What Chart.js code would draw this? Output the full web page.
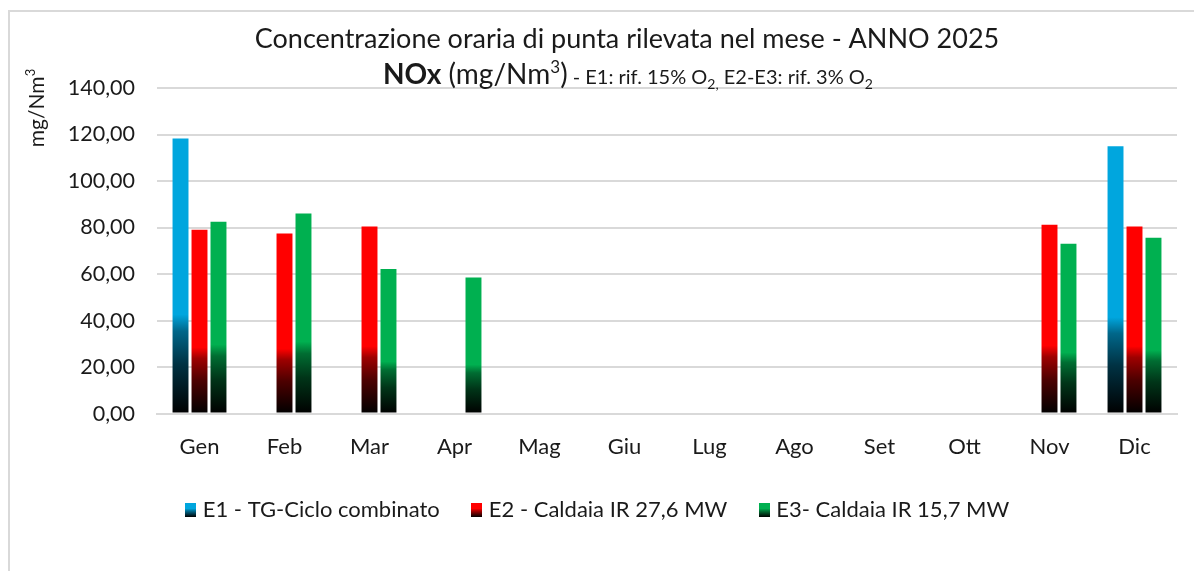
<!DOCTYPE html>
<html>
<head>
<meta charset="utf-8">
<script src="https://cdn.jsdelivr.net/npm/chart.js@4/dist/chart.umd.min.js"></script>
<style>
  html, body { margin: 0; padding: 0; background: #fff; overflow: hidden; }
  #frame { position: absolute; left: 8px; top: 10px; width: 1400px; height: 800px;
           border-left: 2px solid #d9d9d9; border-top: 2px solid #d9d9d9; }
  #wrap { position: absolute; left: 0; top: 0; width: 1194px; height: 571px; }
</style>
</head>
<body>
<div id="frame"></div>
<div id="wrap"><canvas id="myChart" width="1194" height="571"></canvas></div>
<script>
const months = ['Gen', 'Feb', 'Mar', 'Apr', 'Mag', 'Giu', 'Lug', 'Ago', 'Set', 'Ott', 'Nov', 'Dic'];
// mg/Nm3, null = nessun dato
const e1 = [118.3, null, null, null, null, null, null, null, null, null, null, 115.0];
const e2 = [79.1, 77.4, 80.4, null, null, null, null, null, null, null, 81.2, 80.4];
const e3 = [82.5, 86.0, 62.2, 58.5, null, null, null, null, null, null, 73.0, 75.6];
const yTicks = [0, 20, 40, 60, 80, 100, 120, 140];

const FONT = 'Lato, "Noto Sans", sans-serif';
const TXT = '#1a1a1a';
const blue = [0, 166, 222];
const red = [255, 0, 0];
const green = [0, 176, 80];

function rgb(c, k) {
  return 'rgb(' + Math.round(c[0] * k) + ',' + Math.round(c[1] * k) + ',' + Math.round(c[2] * k) + ')';
}

// gradiente nero in basso -> colore pieno a circa 1/3 dell'altezza
function barFill(col) {
  return function(context) {
    const chart = context.chart;
    const y = chart.scales.y;
    if (context.type !== 'data' || !chart.chartArea || !y || context.raw == null) return rgb(col, 1);
    const top = y.getPixelForValue(context.raw);
    const base = y.getPixelForValue(0);
    const g = chart.ctx.createLinearGradient(0, base, 0, top);
    g.addColorStop(0, 'rgb(0,0,0)');
    g.addColorStop(0.18, rgb(col, 0.3));
    g.addColorStop(0.3, rgb(col, 0.62));
    g.addColorStop(0.36, rgb(col, 1));
    g.addColorStop(1, rgb(col, 1));
    return g;
  };
}

function legendBox(col) {
  const c = document.createElement('canvas');
  c.width = 11; c.height = 14;
  const x = c.getContext('2d');
  const g = x.createLinearGradient(0, 14, 0, 0);
  g.addColorStop(0, '#000');
  g.addColorStop(0.45, rgb(col, 0.7));
  g.addColorStop(0.6, rgb(col, 1));
  g.addColorStop(1, rgb(col, 1));
  x.fillStyle = g;
  x.fillRect(0, 0, 11, 14);
  return c;
}

function drawRun(ctx, parts, cx, baseY) {
  let w = 0;
  parts.forEach(p => { ctx.font = p.f; p.w = ctx.measureText(p.t).width; w += p.w; });
  let x = cx - w / 2;
  ctx.textAlign = 'left';
  parts.forEach(p => { ctx.font = p.f; ctx.fillText(p.t, x, baseY + p.dy); x += p.w; });
}

const titlePlugin = {
  id: 'titoli',
  afterDraw(chart) {
    const ctx = chart.ctx;
    ctx.save();
    ctx.fillStyle = TXT;
    ctx.textBaseline = 'alphabetic';
    ctx.textAlign = 'center';
    ctx.font = '27px ' + FONT;
    ctx.fillText('Concentrazione oraria di punta rilevata nel mese - ANNO 2025', 627, 48);

    drawRun(ctx, [
      { t: 'NOx', f: 'bold 28px ' + FONT, dy: 0 },
      { t: ' (mg/Nm', f: '28px ' + FONT, dy: 0 },
      { t: '3', f: '17px ' + FONT, dy: -11 },
      { t: ')', f: '28px ' + FONT, dy: 0 },
      { t: ' - E1: rif. 15% O', f: '20px ' + FONT, dy: 0 },
      { t: '2,', f: '14px ' + FONT, dy: 5 },
      { t: ' E2-E3: rif. 3% O', f: '20px ' + FONT, dy: 0 },
      { t: '2', f: '14px ' + FONT, dy: 5 }
    ], 628, 84);

    // titolo asse y
    ctx.translate(44, 108);
    ctx.rotate(-Math.PI / 2);
    drawRun(ctx, [
      { t: 'mg/Nm', f: '21px ' + FONT, dy: 0 },
      { t: '3', f: '13px ' + FONT, dy: -9 }
    ], 0, 0);
    ctx.restore();
  }
};

const ctx = document.getElementById('myChart').getContext('2d');
const chart = new Chart(ctx, {
  type: 'bar',
  data: {
    labels: months,
    datasets: [
      { label: 'E1 - TG-Ciclo combinato', data: e1, backgroundColor: barFill(blue), pointStyle: legendBox(blue) },
      { label: 'E2 - Caldaia IR 27,6 MW', data: e2, backgroundColor: barFill(red), pointStyle: legendBox(red) },
      { label: 'E3- Caldaia IR 15,7 MW', data: e3, backgroundColor: barFill(green), pointStyle: legendBox(green) }
    ]
  },
  options: {
    responsive: false,
    animation: false,
    events: [],
    datasets: { bar: { categoryPercentage: 0.67, barPercentage: 0.84 } },
    layout: { padding: { left: 22, right: 17, top: 88, bottom: 40 } },
    plugins: {
      title: { display: false },
      tooltip: { enabled: false },
      legend: {
        position: 'bottom',
        labels: {
          usePointStyle: true,
          pointStyleWidth: 2,
          boxHeight: 14,
          padding: 36,
          color: TXT,
          font: { family: FONT, size: 22 }
        }
      }
    },
    scales: {
      x: {
        grid: { display: false },
        border: { display: true, color: '#d9d9d9', width: 2 },
        afterFit(scale) { scale.height -= 9; },
        ticks: { color: TXT, font: { family: FONT, size: 22 }, padding: 12 }
      },
      y: {
        min: 0,
        max: 140,
        afterBuildTicks(scale) { scale.ticks = yTicks.map(v => ({ value: v })); },
        afterFit(scale) { scale.width = 157 - 22; },
        grid: { color: '#d9d9d9', lineWidth: 2, drawTicks: false },
        border: { display: false },
        ticks: {
          color: TXT,
          padding: 22,
          font: { family: FONT, size: 21.5 },
          callback: v => v.toFixed(2).replace('.', ',')
        }
      }
    }
  },
  plugins: [titlePlugin]
});
</script>
</body>
</html>
